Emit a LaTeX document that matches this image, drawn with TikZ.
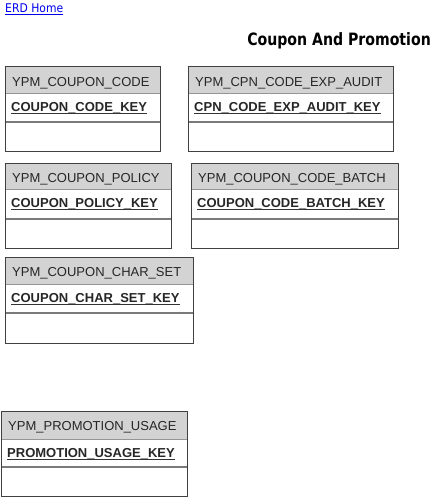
\documentclass[tikz,border=0pt]{standalone}
\usepackage{fontspec}
\setmainfont{Liberation Sans}
\newfontfamily\tahomalike[FakeStretch=0.83]{DejaVu Sans}
\newfontfamily\linkfont[FakeStretch=0.9]{DejaVu Sans}
\definecolor{hdrgray}{HTML}{D3D3D3}
\definecolor{edgegray}{HTML}{404040}
\definecolor{divgray}{HTML}{7A7A7A}
\definecolor{linkblue}{RGB}{0,0,238}
\tikzset{
  hdrtext/.style={anchor=base west,inner sep=0pt,font=\fontsize{13}{15}\selectfont,text=black!85},
  keytext/.style={anchor=base west,inner sep=0pt,font=\fontsize{13}{15}\selectfont\bfseries,text=black!85},
  boxedge/.style={draw=edgegray,line width=1pt},
  hdrline/.style={draw=divgray!80,line width=0.9pt},
  divline/.style={draw=divgray,line width=1.4pt},
  uline/.style={draw=black!80,line width=0.9pt}
}
\newcommand{\ertable}[9]{%
  % #1 name, #2 x1, #3 x2, #4 ytop, #5 yhdr, #6 ydiv, #7 ybot, #8 title, #9 key
  \fill[hdrgray] (#2,-#4) rectangle (#3,-#5);
  \draw[hdrline] (#2,-#5) -- (#3,-#5);
  \draw[divline] (#2,-#6) -- (#3,-#6);
  \draw[boxedge] (#2,-#4) rectangle (#3,-#7);
  \node[hdrtext] (#1h) at (#2+7,-#4-19.5) {#8};
  \node[keytext] (#1k) at (#2+6,-#5-18.5) {#9};
  \draw[uline] ([yshift=-2pt]#1k.base west) -- ([yshift=-2pt]#1k.base east);
}
\begin{document}
\begin{tikzpicture}[x=1pt,y=1pt]
\useasboundingbox (0,0) rectangle (434,-497);
\node[anchor=base west,inner sep=0pt,font=\linkfont\fontsize{12}{14}\selectfont,text=linkblue] (home) at (5,-12.7) {ERD Home};
\draw[linkblue,line width=0.8pt] ([yshift=-1.5pt]home.base west) -- ([yshift=-1.5pt]home.base east);
\node[anchor=base east,inner sep=0pt,font=\tahomalike\bfseries\fontsize{17}{20}\selectfont] (title) at (431,-46) {Coupon And Promotion};
\ertable{t1}{5}{160.5}{67}{93}{122}{152}{YPM\_COUPON\_CODE}{COUPON\_CODE\_KEY}
\ertable{t2}{188}{393.5}{67}{93}{122}{152}{YPM\_CPN\_CODE\_EXP\_AUDIT}{CPN\_CODE\_EXP\_AUDIT\_KEY}
\ertable{t3}{5}{171}{163}{189}{219}{248}{YPM\_COUPON\_POLICY}{COUPON\_POLICY\_KEY}
\ertable{t4}{191}{398}{163}{189}{219}{248}{YPM\_COUPON\_CODE\_BATCH}{COUPON\_CODE\_BATCH\_KEY}
\ertable{t5}{5}{193}{257}{284}{313}{343}{YPM\_COUPON\_CHAR\_SET}{COUPON\_CHAR\_SET\_KEY}
\ertable{t6}{1}{187}{411}{439}{467}{496}{YPM\_PROMOTION\_USAGE}{PROMOTION\_USAGE\_KEY}
\end{tikzpicture}
\end{document}
